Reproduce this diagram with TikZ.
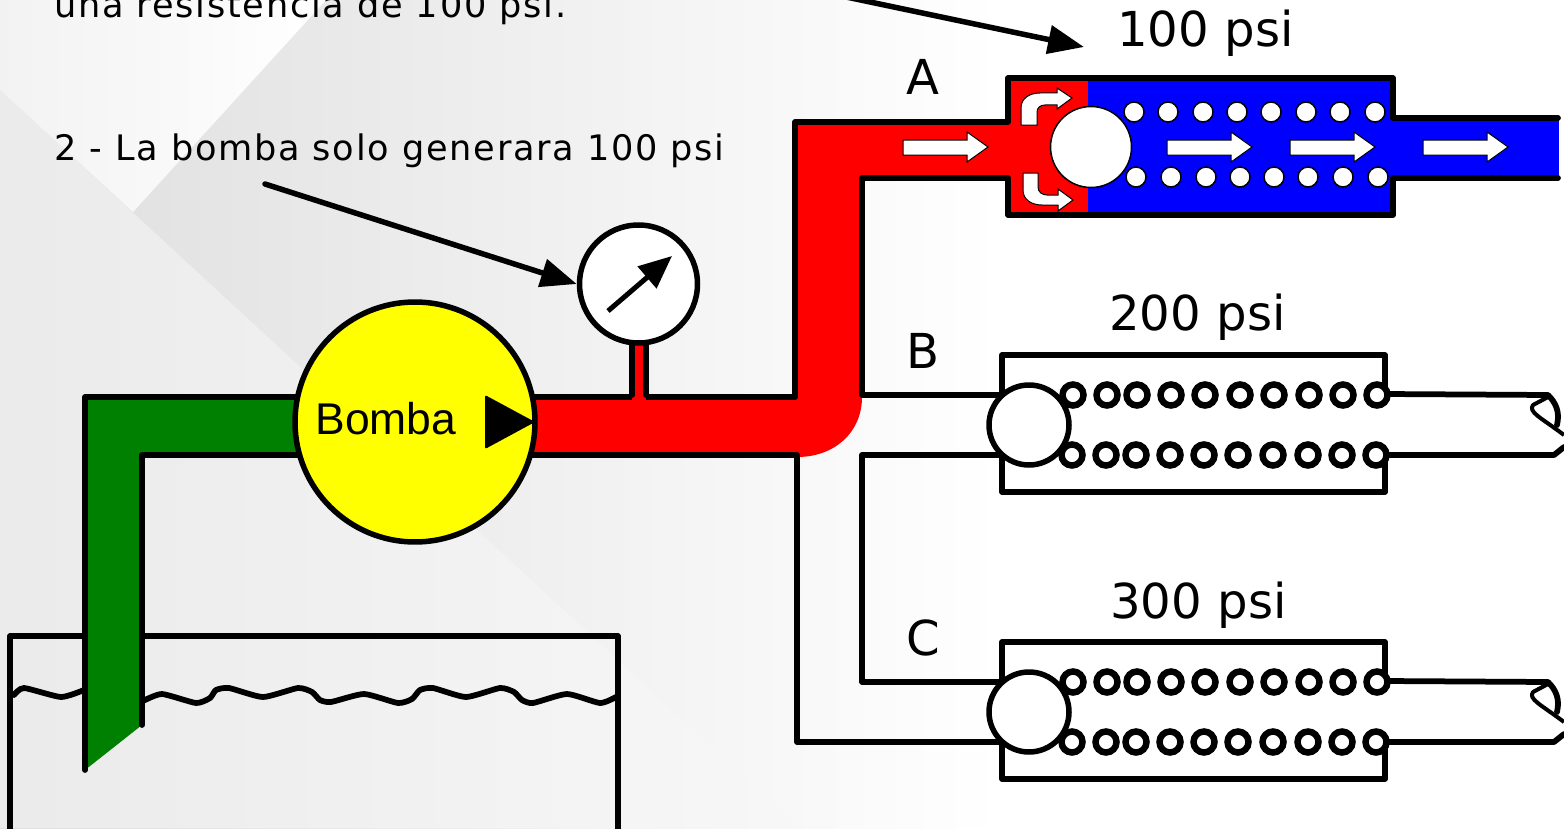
\documentclass[tikz,border=0pt]{standalone}
\usepackage{fontspec}
\setmainfont{DejaVu Sans}
\newfontfamily\bombafont{Liberation Sans}
\usepackage{tikz}
\usepackage{xcolor}
\usetikzlibrary{arrows.meta}
\definecolor{pipegreen}{RGB}{0, 128, 0}
\definecolor{pipered}{RGB}{255, 0, 0}
\definecolor{pipeblue}{RGB}{0, 0, 255}
\definecolor{pumpyellow}{RGB}{255, 255, 0}
\begin{document}
\begin{tikzpicture}[x=0.02cm, y=-0.02cm, >={Triangle[length=0.72cm,width=0.56cm]},
    wall/.style={line width=0.115cm, black, line cap=round, line join=round},
    callout/.style={line width=0.11cm, black, line cap=round, ->},
    flowarrow/.style={fill=white, draw=black, line width=0.02cm},
    coil/.style={fill=white, draw=black, line width=0.13cm},
    coilfine/.style={fill=white, draw=black, line width=0.03cm},
    biglabel/.style={inner sep=0, anchor=base west, font=\fontsize{27.4}{30}\selectfont},
    portlabel/.style={inner sep=0, anchor=base, font=\fontsize{27.4}{30}\selectfont},
    notelabel/.style={inner sep=0, anchor=base west, font=\fontsize{20}{23}\selectfont\addfontfeature{LetterSpace=5}}]
    \clip (0,0) rectangle (1564,828);

    % Background
    \fill[white] (0,0) rectangle (1564,828);
    \shade[left color=black!13, right color=white] (0,0) rectangle (1000,828);
    \shade[left color=black!8, right color=black!3] (0,90) -- (800,828) -- (0,828) -- cycle;
    \shade[left color=black!5, right color=white] (0,0) -- (326,0) -- (133,212) -- (0,90) -- cycle;

    % Tank
    \draw[wall] (10,840) -- (10,636) -- (618,636) -- (618,840);
    \draw[wall] plot[smooth, tension=0.35] coordinates {(14,695) (24,688) (61,697) (84,690)};
    \draw[wall] plot[smooth, tension=0.35] coordinates {(143,701) (162,694) (196,703) (210,698) (216,690) (229,688) (263,697) (298,688) (312,692) (320,700) (331,702) (364,694) (398,703) (412,699) (420,690) (433,688) (466,697) (500,688) (514,692) (522,700) (533,703) (567,694) (600,703) (616,697)};

    % Suction pipe
    \fill[pipegreen] (85,397) -- (300,397) -- (300,455) -- (142,455) -- (142,725) -- (85,770) -- cycle;
    \draw[wall] (300,397) -- (85,397) -- (85,770);
    \draw[wall] (300,455) -- (142,455) -- (142,725);

    % Pressure pipe
    \fill[pipered] (530,397) -- (795,397) -- (795,122) -- (1012,122) -- (1012,178) -- (862,178) -- (862,397) .. controls (862,432) and (835,457) .. (797,457) -- (530,455) -- cycle;
    \draw[wall] (530,397) -- (795,397) -- (795,122) -- (1008,122);
    \draw[wall] (1008,178) -- (862,178) -- (862,395) -- (1002,395);
    \draw[wall] (530,455) -- (797,455) -- (797,742) -- (1002,742);
    \draw[wall] (1002,455) -- (862,455) -- (862,682) -- (1002,682);

    % Gauge
    \fill[pipered] (632,340) rectangle (646,400);
    \draw[wall] (632,340) -- (632,395);
    \draw[wall] (646,340) -- (646,395);
    \node[circle, fill=white, draw=black, line width=0.11cm, minimum size=2.36cm, inner sep=0] (gauge) at (638.5,284) {};
    \coordinate (needlestart) at (608,311);
    \coordinate (needletip) at (672,256);
    \draw[line width=0.1cm, -{Triangle[length=0.66cm,width=0.56cm]}] (needlestart) -- (needletip);

    % Pump
    \node[circle, fill=pumpyellow, draw=black, line width=0.11cm, minimum size=4.8cm, inner sep=0] (bomba) at (415,422) {};
    \node[inner sep=0, anchor=base west, font=\bombafont\fontsize{25.3}{30}\selectfont] (bombalabel) at (315,434) {Bomba};
    \fill[black, rounded corners=0.04cm] (485,395) -- (535,422) -- (485,449) -- cycle;

    % Valve A (open)
    \fill[pipered] (1008,78) rectangle (1090,215);
    \fill[pipeblue] (1088,78) rectangle (1393,215);
    \fill[pipeblue] (1390,118) rectangle (1559,178);
    \draw[wall] (1008,122) -- (1008,78) -- (1393,78) -- (1393,118) -- (1558,118);
    \draw[wall] (1008,178) -- (1008,215) -- (1393,215) -- (1393,178) -- (1558,178);
    \foreach \xa in {1134,1168,1203,1237,1271,1306,1340,1375}
        \draw[coilfine] (\xa,112) circle (10);
    \foreach \xa in {1136,1171,1206,1240,1274,1308,1343,1378}
        \draw[coilfine] (\xa,177) circle (10);
    \node[circle, fill=white, draw=black, line width=0.03cm, minimum size=1.62cm, inner sep=0] (ballA) at (1091,147) {};
    \foreach \xa in {903,1167,1290,1423}
        \draw[flowarrow] (\xa,140) -- ++(64,0) -- ++(0,-8) -- ++(21,15) -- ++(-21,15) -- ++(0,-7) -- ++(-64,0) -- cycle;
    \draw[flowarrow] (1021,125) -- (1021,108) .. controls (1021,98) and (1030,93) .. (1040,93) -- (1057,93) -- (1057,88) -- (1072,98) -- (1057,109) -- (1057,105) -- (1045,105) .. controls (1040,105) and (1037,108) .. (1037,112) -- (1037,125) -- cycle;
    \draw[flowarrow] (1023,173) -- (1023,190) .. controls (1023,200) and (1032,205) .. (1042,205) -- (1058,205) -- (1058,211) -- (1073,200) -- (1058,189) -- (1058,195) -- (1047,195) .. controls (1042,195) and (1038,192) .. (1038,187) -- (1038,173) -- cycle;

    % Valves B and C (closed)
    \foreach \name/\dy in {B/0, C/287} {
        \begin{scope}[yshift=-\dy*0.02cm]
            \draw[wall] (1002,395) -- (1002,355) -- (1385,355) -- (1385,395);
            \draw[wall] (1002,455) -- (1002,492) -- (1385,492) -- (1385,455);
            \draw[wall] (1385,394) -- (1548,395) .. controls (1556,403) and (1560,412) .. (1557,425);
            \draw[wall] (1385,455) -- (1554,455) -- (1564,447);
            \draw[line width=0.08cm, line join=round] (1548,397) -- (1533,405) .. controls (1528,412) and (1540,417) .. (1564,435);
            \foreach \xa in {1073,1107,1137,1171,1205,1240,1274,1309,1343,1377}
                \draw[coil] (\xa,395) circle (10.5);
            \foreach \xa in {1072,1106,1136,1170,1204,1238,1273,1308,1342,1376}
                \draw[coil] (\xa,455) circle (10.5);
            \node[circle, fill=white, draw=black, line width=0.11cm, minimum size=1.6cm, inner sep=0] (ball\name) at (1029,425) {};
        \end{scope}
    }

    % Labels
    \node[portlabel] (portA) at (923,94) {A};
    \node[portlabel] (portB) at (923,368) {B};
    \node[portlabel] (portC) at (923,655) {C};
    \node[biglabel] (psiA) at (1117,47) {100 psi};
    \node[biglabel] (psiB) at (1109,330) {200 psi};
    \node[biglabel] (psiC) at (1110,618) {300 psi};
    \node[notelabel] (noteone) at (54,18) {una resistencia de 100 psi.};
    \node[notelabel] (notetwo) at (54,160) {2 - La bomba solo generara 100 psi};

    % Callouts
    \coordinate (calloutA) at (832,-6);
    \coordinate (valvemark) at (1084,47);
    \coordinate (callouttwo) at (265,184);
    \draw[callout] (calloutA) -- (valvemark);
    \draw[callout] (callouttwo) -- (gauge.west);
\end{tikzpicture}
\end{document}
